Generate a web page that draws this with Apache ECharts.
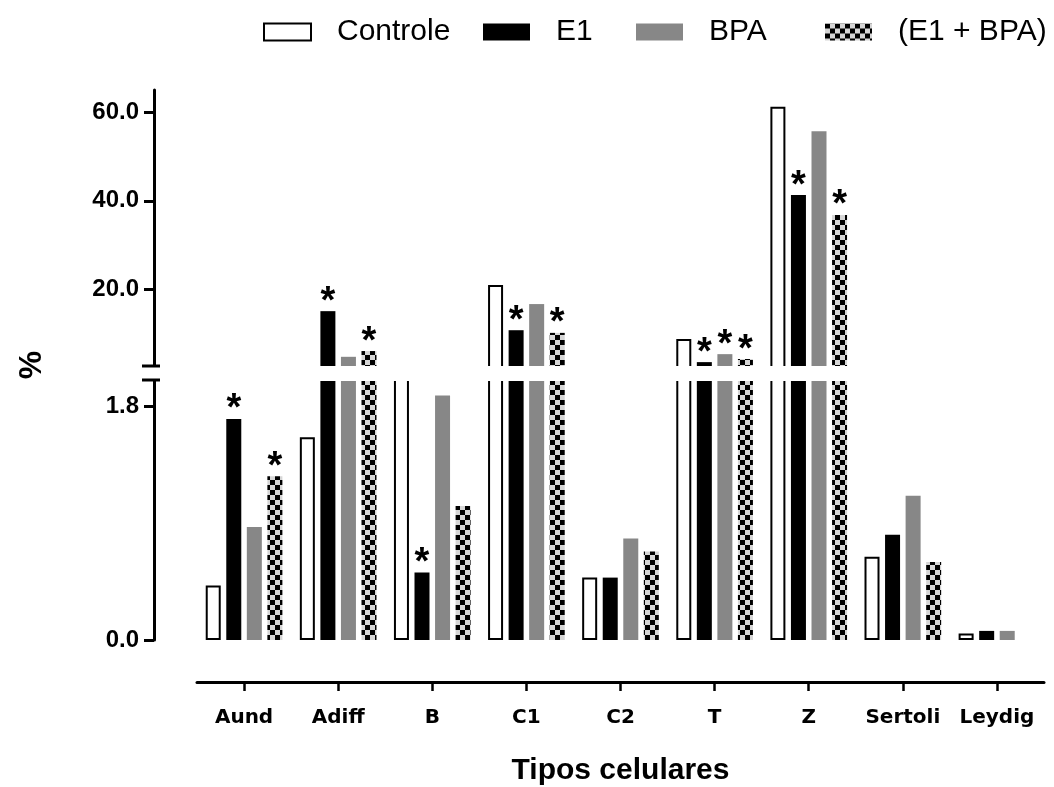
<!DOCTYPE html>
<html><head><meta charset="utf-8">
<script src="https://cdn.jsdelivr.net/npm/echarts@6/dist/echarts.min.js"></script>
<style>html,body{margin:0;padding:0;background:#fff}#c{width:1054px;height:787px}</style>
</head><body><div id="c"></div>
<script>
// ---- data ----
const categories = ['Aund','Adiff','B','C1','C2','T','Z','Sertoli','Leydig'];
const seriesNames = ['Controle','E1','BPA','(E1 + BPA)'];
const controle = [0.42, 1.56, 2.2, 21.0, 0.48, 8.8, 61.2, 0.64, 0.05];
const e1       = [1.70, 15.1, 0.52, 10.8, 0.48, 3.6, 41.3, 0.81, 0.07];
const bpa      = [0.87, 4.8, 1.88, 16.7, 0.78, 5.4, 55.7, 1.11, 0.07];
const e1bpa    = [1.26, 6.1, 1.03, 10.2, 0.68, 4.3, 36.8, 0.60, 0];
const sigControle = [0,0,0,0,0,0,0,0,0];
const sigE1       = [1,1,1,1,0,1,1,0,0];
const sigBpa      = [0,0,0,0,0,1,0,0,0];
const sigE1bpa    = [1,1,0,1,0,1,1,0,0];
const lowerTicks = [0, 1.8];
const upperTicks = [20, 40, 60];
const lowerRange = [0, 2.0];
const upperRange = [2.5, 65];

// ---- styles ----
const pc = document.createElement('canvas'); pc.width = 10; pc.height = 10;
const ctx = pc.getContext('2d');
ctx.fillStyle = '#d6d6d6'; ctx.fillRect(0,0,10,10);
ctx.fillStyle = '#000'; ctx.fillRect(0,0,5,5); ctx.fillRect(5,5,5,5);
const checker = {image: pc, repeat: 'repeat'};

const styles = [
  {color:'#fff', borderColor:'#000', borderWidth:2},
  {color:'#000'},
  {color:'#878787'},
  {color: checker}
];
const values = [controle, e1, bpa, e1bpa];
const sigs = [sigControle, sigE1, sigBpa, sigE1bpa];
const FONT = 'Liberation Sans, Arial, sans-serif';

const starLabel = {
  show: true, position: 'top', formatter: '*', distance: -10,
  fontSize: 38, fontWeight: 'bold', color: '#000', fontFamily: FONT
};

const series = [];
values.forEach((arr, s) => {
  series.push({
    name: seriesNames[s], type: 'bar', xAxisIndex: 0, yAxisIndex: 0,
    barWidth: 15, barGap: '37%', itemStyle: styles[s], clip: true,
    data: arr.map((v, i) => {
      const vis = v > upperRange[0];
      return {value: vis ? v : '-', label: Object.assign({}, starLabel, {show: !!(vis && sigs[s][i])})};
    })
  });
  series.push({
    name: seriesNames[s], type: 'bar', xAxisIndex: 1, yAxisIndex: 1,
    barWidth: 15, barGap: '37%', itemStyle: styles[s], clip: true,
    data: arr.map((v, i) => {
      const vis = v <= lowerRange[1];
      return {value: v, label: Object.assign({}, starLabel, {show: !!(vis && sigs[s][i])})};
    })
  });
});

const axisLineStyle = {color:'#000', width:3};
const yLabel = {fontSize:24, fontWeight:'bold', color:'#000', fontFamily:FONT, margin:15,
  formatter: v => Number(v).toFixed(1)};

const legendLefts = [258, 478, 631, 820];
const legends = seriesNames.map((n, i) => ({
  data: [n], left: legendLefts[i], top: 12, icon: 'rect', itemWidth: 47, itemHeight: 17,
  selectedMode: false,
  textStyle: {fontSize: 30, color:'#000', fontFamily: FONT, padding:[0,0,0,21]}
}));

const option = {
  animation: false,
  backgroundColor: '#fff',
  legend: legends,
  grid: [
    {left:197, right:10, top:90, height:277},
    {left:197, right:10, top:380, height:261}
  ],
  xAxis: [
    {gridIndex:0, type:'category', data:categories, show:false},
    {gridIndex:1, type:'category', data:categories, offset:42,
     axisLine:{onZero:false, lineStyle:axisLineStyle},
     axisTick:{show:true, interval:0, alignWithLabel:true, length:9, lineStyle:{color:'#000', width:2.5}},
     axisLabel:{interval:0, fontSize:20, fontWeight:'bold', color:'#000', fontFamily:'DejaVu Sans', margin:26},
     name:'Tipos celulares', nameLocation:'middle', nameGap:74,
     nameTextStyle:{fontSize:30, fontWeight:'bold', color:'#000', fontFamily:FONT}}
  ],
  yAxis: [
    {gridIndex:0, type:'value', min:upperRange[0], max:upperRange[1], offset:43,
     axisLine:{show:true, lineStyle:axisLineStyle},
     axisTick:{show:true, length:10, customValues:upperTicks, lineStyle:{color:'#000', width:3}},
     axisLabel:Object.assign({customValues:upperTicks}, yLabel),
     splitLine:{show:false}},
    {gridIndex:1, type:'value', min:lowerRange[0], max:lowerRange[1], offset:43,
     axisLine:{show:true, lineStyle:axisLineStyle},
     axisTick:{show:true, length:10, customValues:lowerTicks, lineStyle:{color:'#000', width:3}},
     axisLabel:Object.assign({customValues:lowerTicks}, yLabel),
     splitLine:{show:false}}
  ],
  graphic: [
    {type:'rect', z:100, shape:{x:135, y:366, width:919, height:15}, style:{fill:'#fff'}},
    {type:'line', z:101, shape:{x1:142, y1:366, x2:160, y2:366}, style:{stroke:'#000', lineWidth:3}},
    {type:'line', z:101, shape:{x1:142, y1:380, x2:160, y2:380}, style:{stroke:'#000', lineWidth:3}},
    {type:'text', z:101, x:32, y:365, rotation:Math.PI/2,
     style:{text:'%', fontSize:32, fontWeight:'bold', fill:'#000', font:'bold 32px Liberation Sans', align:'center', verticalAlign:'middle'}}
  ],
  series: series
};

const chart = echarts.init(document.getElementById('c'), null, {renderer:'canvas'});
chart.setOption(option);
</script>
</body></html>
